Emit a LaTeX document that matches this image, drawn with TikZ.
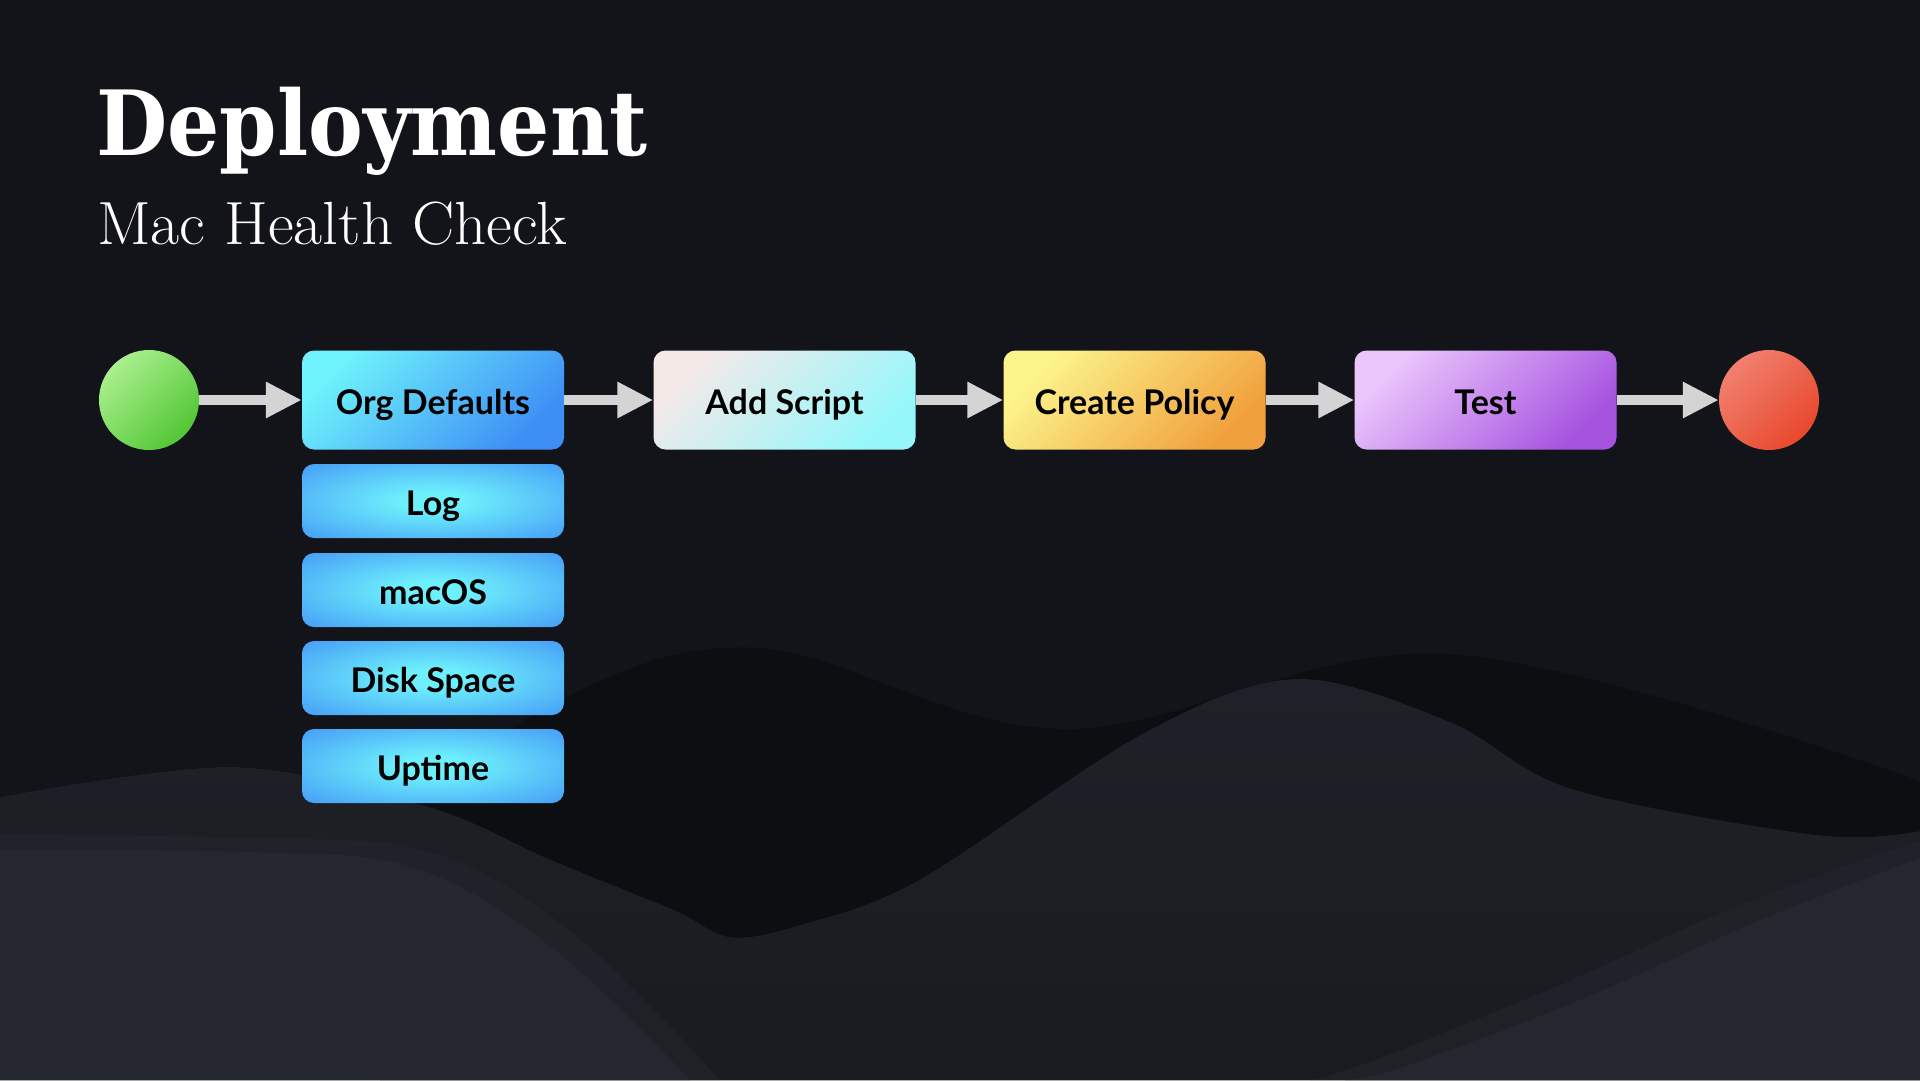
\documentclass[tikz,border=0pt]{standalone}
\usepackage{fontspec}
\usetikzlibrary{arrows.meta}
\newfontfamily\titlefont{DejaVu Serif}
\newfontfamily\boxfont{Lato}
\definecolor{bgc}{HTML}{131419}
\definecolor{darkc}{HTML}{0D0E12}
\definecolor{lightA}{HTML}{1F2128}
\definecolor{lightB}{HTML}{1A1B20}
\definecolor{blobc}{HTML}{24272E}
\definecolor{arrc}{HTML}{D4D4D4}
\definecolor{orgA}{HTML}{6EF2FB}
\definecolor{orgB}{HTML}{3E8FF5}
\definecolor{subA}{HTML}{6EF0FC}
\definecolor{subB}{HTML}{459CF6}
\definecolor{addA}{HTML}{F5E9E8}
\definecolor{addB}{HTML}{96F7FB}
\definecolor{polA}{HTML}{FCF58C}
\definecolor{polB}{HTML}{F0A03C}
\definecolor{testA}{HTML}{EBC6FC}
\definecolor{testB}{HTML}{A653E0}
\definecolor{greenA}{HTML}{AAF08E}
\definecolor{greenB}{HTML}{52C634}
\definecolor{redA}{HTML}{F1806F}
\definecolor{redB}{HTML}{E8482B}
\pgfdeclareradialshading{subglow}{\pgfpoint{0bp}{0bp}}{color(0bp)=(subA); color(6bp)=(subA); color(36bp)=(subB); color(50bp)=(subB)}
\tikzset{
  stepbox/.style={rectangle, rounded corners=12pt, minimum width=262pt, minimum height=99pt, inner sep=0pt, font=\boxfont\bfseries\fontsize{34}{40}\selectfont, text=black, text height=28pt, text depth=0pt},
  subbox/.style={stepbox, minimum height=74pt, shading=subglow},
  diag/.style 2 args={top color=#1, bottom color=#2, shading angle=45},
  endpt/.style={circle, minimum size=100pt, inner sep=0pt},
  arr/.style={arrc, line width=10pt, -{Triangle[length=36pt,width=34pt]}},
}
\begin{document}
\begin{tikzpicture}[x=1pt,y=-1pt]
\useasboundingbox (0,0) rectangle (1920,1080);
\fill[bgc] (0,0) rectangle (1920,1080);
% background waves
\fill[darkc] plot[smooth,tension=0.6] coordinates {(380,830) (560,700) (760,648) (1065,729) (1450,654) (1920,781)} -- (1920,1080) -- (380,1080) -- cycle;
\fill[top color=lightA, bottom color=lightB] plot[smooth,tension=0.55] coordinates {(0,797) (233,767) (429,807) (551,860) (674,910) (730,937) (800,925) (919,880) (1144,733) (1296,679) (1450,722) (1572,789) (1817,835) (1920,831)} -- (1920,1080) -- (0,1080) -- cycle;
\fill[blobc, opacity=0.5] plot[smooth,tension=0.6] coordinates {(0,835) (250,838) (430,852) (575,935) (720,1080)} -- (0,1080) -- cycle;
\fill[blobc] plot[smooth,tension=0.6] coordinates {(0,850) (250,852) (415,868) (555,950) (690,1080)} -- (0,1080) -- cycle;
\fill[blobc, opacity=0.5] plot[smooth,tension=0.6] coordinates {(1920,840) (1740,905) (1560,985) (1375,1060) (1310,1080)} -- (1920,1080) -- cycle;
\fill[blobc] plot[smooth,tension=0.6] coordinates {(1920,858) (1756,922) (1580,1000) (1400,1068) (1345,1080)} -- (1920,1080) -- cycle;
% title
\node[anchor=base west, inner sep=0pt, text=white, font=\titlefont\bfseries\fontsize{90}{100}\selectfont, xscale=0.913, transform shape] (title) at (96,155) {Deployment};
\node[anchor=base west, inner sep=0pt, text=white, font=\fontsize{61}{68}\selectfont, xscale=1.035, transform shape] (subtitle) at (97,244) {Mac Health Check};
% flow
\node[endpt, diag={greenA}{greenB}] (start) at (149,400) {};
\node[stepbox, diag={orgA}{orgB}] (org) at (433,400) {Org Defaults};
\node[stepbox, diag={addA}{addB}] (add) at (784.5,400) {Add Script};
\node[stepbox, diag={polA}{polB}] (pol) at (1134.5,400) {Create Policy};
\node[stepbox, diag={testA}{testB}] (test) at (1485.5,400) {Test};
\node[endpt, diag={redA}{redB}] (stop) at (1769,400) {};
\node[subbox] (log) at (433,501) {Log};
\node[subbox] (macos) at (433,590) {macOS};
\node[subbox] (disk) at (433,678) {Disk Space};
\node[subbox] (uptime) at (433,766) {Uptime};
\draw[arr] (start) -- (org);
\draw[arr] (org) -- (add);
\draw[arr] (add) -- (pol);
\draw[arr] (pol) -- (test);
\draw[arr] (test) -- (stop);
\end{tikzpicture}
\end{document}
